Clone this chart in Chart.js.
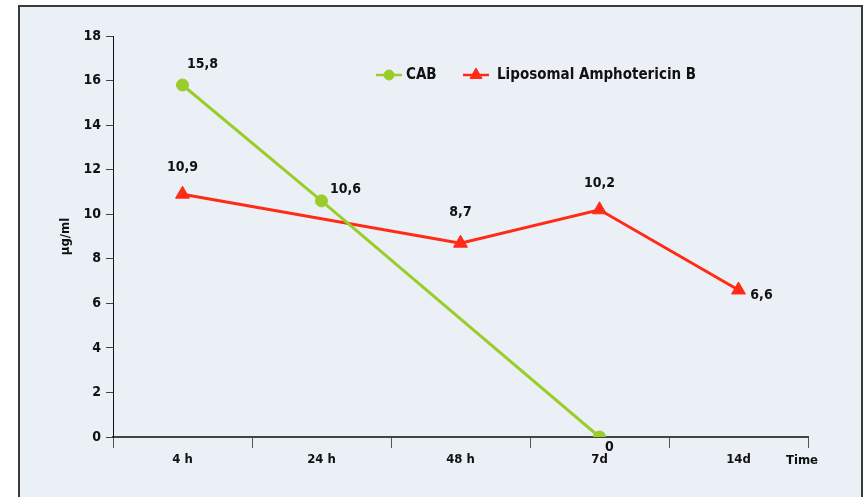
<!DOCTYPE html>
<html>
<head>
<meta charset="utf-8">
<script src="https://cdn.jsdelivr.net/npm/chart.js@4/dist/chart.umd.min.js"></script>
<style>
  html, body { margin: 0; padding: 0; background: #ffffff; }
  #wrap { width: 866px; height: 497px; position: relative; }
</style>
</head>
<body>
<div id="wrap"><canvas id="c" width="866" height="497"></canvas></div>
<script>
// Sampling times
const categories = ['4 h', '24 h', '48 h', '7d', '14d'];
// Serum levels (µg/ml); null where no measurement was taken
const cabValues = [15.8, 10.6, null, 0, null];
const liposomalValues = [10.9, null, 8.7, 10.2, 6.6];
const seriesNames = ['CAB', 'Liposomal Amphotericin B'];
// Y axis range and step
const yMin = 0, yMax = 18, yStep = 2;

const FONT = '"Liberation Sans Narrow", "DejaVu Sans Condensed", "Liberation Sans", sans-serif';
const GREEN = '#9acd2a';
const RED = '#ff2b17';

// Where each value label sits relative to its point (dx, dy in px)
const labelPlacement = [
  [[20, -21], [24, -11], null, [10, 10], null],
  [[0, -27], null, [0, -31], [0, -26], [23, 5]]
];

const framePlugin = {
  id: 'frame',
  beforeDraw(chart) {
    const ctx = chart.ctx;
    ctx.save();
    ctx.fillStyle = '#ffffff';
    ctx.fillRect(0, 0, chart.width, chart.height);
    ctx.fillStyle = '#ebf0f7';
    ctx.fillRect(19, 6, 843, 500);
    ctx.strokeStyle = '#3a3a3a';
    ctx.lineWidth = 2;
    ctx.strokeRect(19, 6, 843, 500);
    ctx.restore();
  }
};

const labelsPlugin = {
  id: 'valueLabels',
  afterDatasetsDraw(chart) {
    const ctx = chart.ctx;
    ctx.save();
    ctx.font = 'bold 14px ' + FONT;
    ctx.fillStyle = '#111111';
    ctx.textAlign = 'center';
    ctx.textBaseline = 'middle';
    chart.data.datasets.forEach((ds, di) => {
      const meta = chart.getDatasetMeta(di);
      ds.data.forEach((v, i) => {
        if (v === null) return;
        const p = meta.data[i];
        const off = labelPlacement[di][i] || [0, -25];
        ctx.fillText(String(v).replace('.', ','), p.x + off[0], p.y + off[1]);
      });
    });

    // "Time" at the right end of the category axis, level with its tick labels
    const xs = chart.scales.x;
    ctx.font = 'bold 13px ' + FONT;
    ctx.fillText('Time', xs.right - 6, 461);
    ctx.restore();

    // Legend: line + marker + name for each series
    const items = [
      { x: 376, ds: chart.data.datasets[0], textX: 406 },
      { x: 463, ds: chart.data.datasets[1], textX: 497 }
    ];
    const ly = 75;
    items.forEach(it => {
      ctx.save();
      ctx.strokeStyle = it.ds.borderColor;
      ctx.lineWidth = 2.5;
      ctx.beginPath();
      ctx.moveTo(it.x, ly);
      ctx.lineTo(it.x + 26, ly);
      ctx.stroke();
      ctx.fillStyle = it.ds.backgroundColor;
      ctx.strokeStyle = it.ds.borderColor;
      ctx.lineWidth = 1;
      Chart.helpers.drawPoint(ctx, {
        pointStyle: it.ds.pointStyle,
        radius: it.ds.pointRadius - 1,
        borderWidth: 1
      }, it.x + 13, ly);
      ctx.restore();
    });
    ctx.save();
    ctx.font = 'bold 15px ' + FONT;
    ctx.fillStyle = '#111111';
    ctx.textBaseline = 'middle';
    ctx.textAlign = 'left';
    items.forEach(it => ctx.fillText(it.ds.label, it.textX, ly));
    ctx.restore();
  }
};

new Chart(document.getElementById('c'), {
  type: 'line',
  data: {
    labels: categories,
    datasets: [
      {
        label: seriesNames[0],
        data: cabValues,
        borderColor: GREEN,
        backgroundColor: GREEN,
        pointStyle: 'circle',
        pointRadius: 6,
        pointBorderWidth: 1,
        borderWidth: 3,
        spanGaps: true,
        tension: 0
      },
      {
        label: seriesNames[1],
        data: liposomalValues,
        borderColor: RED,
        backgroundColor: RED,
        pointStyle: 'triangle',
        pointRadius: 8,
        pointBorderWidth: 1,
        borderWidth: 3,
        spanGaps: true,
        tension: 0
      }
    ]
  },
  options: {
    responsive: false,
    animation: false,
    devicePixelRatio: 1,
    layout: { padding: { left: 0, top: 36, right: 58, bottom: 0 } },
    plugins: {
      legend: { display: false },
      tooltip: { enabled: false }
    },
    scales: {
      x: {
        type: 'category',
        offset: true,
        border: { display: true, color: '#444444', width: 2 },
        grid: {
          display: true,
          offset: true,
          drawOnChartArea: false,
          drawTicks: true,
          tickLength: 11,
          color: '#555555',
          lineWidth: 1
        },
        ticks: {
          color: '#111111',
          font: { family: FONT, size: 13, weight: 'bold' },
          padding: 4,
          maxRotation: 0
        },
        afterFit(scale) { scale.height = 60; }
      },
      y: {
        min: yMin,
        max: yMax,
        border: { display: true, color: '#111111', width: 1 },
        grid: {
          display: true,
          drawOnChartArea: false,
          drawTicks: true,
          tickLength: 7,
          color: '#444444',
          lineWidth: 1
        },
        ticks: {
          stepSize: yStep,
          color: '#111111',
          font: { family: FONT, size: 14, weight: 'bold' },
          padding: 5
        },
        title: {
          display: true,
          text: 'µg/ml',
          color: '#111111',
          font: { family: FONT, size: 13, weight: 'bold' },
          padding: { top: 58, bottom: 0 }
        },
        afterFit(scale) { scale.width = 113; }
      }
    }
  },
  plugins: [framePlugin, labelsPlugin]
});
</script>
</body>
</html>
